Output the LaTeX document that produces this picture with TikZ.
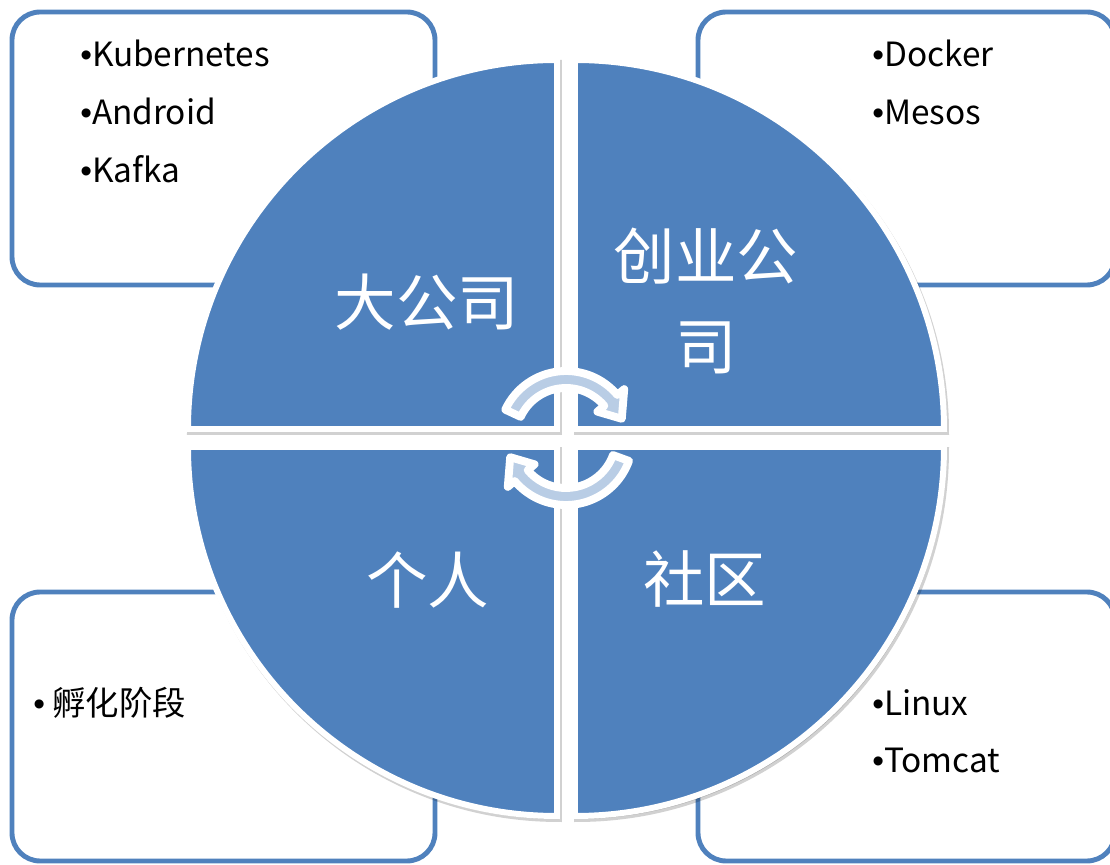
\documentclass[tikz,border=0pt]{standalone}
\usepackage{fontspec}
\setmainfont{Noto Sans CJK SC}
\newfontfamily\dotfont{Liberation Sans}
\usetikzlibrary{positioning}
\definecolor{quadblue}{HTML}{4F81BD}
\definecolor{ringblue}{HTML}{B9CDE5}
\newcommand{\pt}{{\dotfont\textbullet}}

\begin{document}
\begin{tikzpicture}[x=0.02cm, y=0.02cm,
    panel/.style={draw=quadblue, line width=2.8pt, rounded corners=16pt, fill=white},
    quarter/.style={fill=quadblue, draw=white, line width=3.4pt},
    quartershade/.style={fill=black, draw=black, line width=3.4pt, opacity=0.18},
    turn/.style={fill=ringblue, draw=white, line width=4.5pt, line join=round},
    item/.style={anchor=base west, inner sep=0pt, font=\fontsize{19}{24}\selectfont},
    title/.style={text=white, align=center, font=\fontsize{35}{51}\selectfont}]
    \useasboundingbox (-566,-427) rectangle (544,438);

    \draw[panel] (-554,153) rectangle (-131,426);
    \draw[panel] (132,153) rectangle (549,426);
    \draw[panel] (-554,-423) rectangle (-131,-154);
    \draw[panel] (132,-423) rectangle (549,-154);

    \foreach \sx/\sy/\a in {-9/9/90, 9/9/0, -9/-9/180, 9/-9/270}
        \draw[quartershade, shift={(2,-3)}] (\sx,\sy) -- ++(\a:369) arc[start angle=\a, end angle=\a+90, radius=369] -- cycle;
    \foreach \sx/\sy/\a in {-9/9/90, 9/9/0, -9/-9/180, 9/-9/270}
        \draw[quarter] (\sx,\sy) -- ++(\a:369) arc[start angle=\a, end angle=\a+90, radius=369] -- cycle;

    \draw[turn] (155:67) arc[start angle=155, end angle=40, radius=67] -- (40:76) -- (19:59) -- (40:41) -- (40:50) arc[start angle=40, end angle=155, radius=50] -- cycle;
    \draw[turn] (-20:67) arc[start angle=-20, end angle=-140, radius=67] -- (-140:76) -- (-161:59) -- (-140:41) -- (-140:50) arc[start angle=-140, end angle=-20, radius=50] -- cycle;

    \node (bigco) [title] at (-139,136) {大公司};
    \node (startup) [title] at (140,137) {创业公\\司};
    \node (person) [title] at (-138,-142) {个人};
    \node (community) [title] at (139,-141) {社区};

    \node (kube) [item] at (-486,371) {\pt Kubernetes};
    \node (android) [item] at (-486,313) {\pt Android};
    \node (kafka) [item] at (-486,255) {\pt Kafka};
    \node (docker) [item] at (306,371) {\pt Docker};
    \node (mesos) [item] at (306,313) {\pt Mesos};
    \node (incub) [item] at (-533,-278) {\pt\ 孵化阶段};
    \node (linux) [item] at (306,-278) {\pt Linux};
    \node (tomcat) [item] at (306,-335) {\pt Tomcat};
\end{tikzpicture}
\end{document}
